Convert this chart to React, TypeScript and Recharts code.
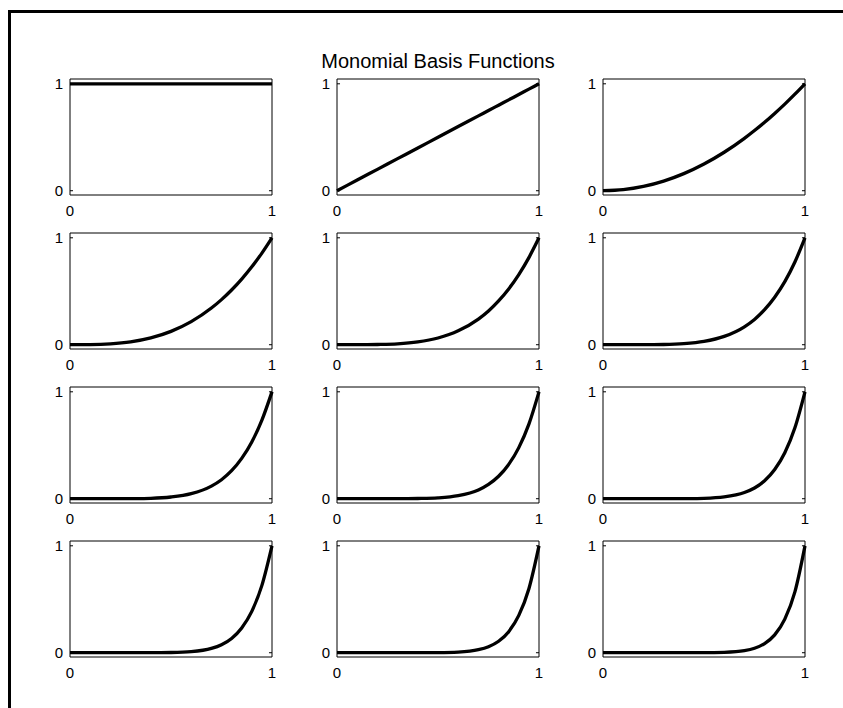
import React from 'react';
import { LineChart, Line, XAxis, YAxis, ReferenceArea, ReferenceLine } from 'recharts';

// shared sample positions on [0, 1]
const xs = [0, 0.1, 0.2, 0.3, 0.4, 0.5, 0.6, 0.7, 0.75, 0.8, 0.85, 0.9, 0.95, 1];

// x^0 ... x^11 read at the positions above
const p0 = [1, 1, 1, 1, 1, 1, 1, 1, 1, 1, 1, 1, 1, 1];
const p1 = [0, 0.1, 0.2, 0.3, 0.4, 0.5, 0.6, 0.7, 0.75, 0.8, 0.85, 0.9, 0.95, 1];
const p2 = [0, 0.01, 0.04, 0.09, 0.16, 0.25, 0.36, 0.49, 0.563, 0.64, 0.723, 0.81, 0.903, 1];
const p3 = [0, 0.001, 0.008, 0.027, 0.064, 0.125, 0.216, 0.343, 0.422, 0.512, 0.614, 0.729, 0.857, 1];
const p4 = [0, 0, 0.002, 0.008, 0.026, 0.063, 0.13, 0.24, 0.316, 0.41, 0.522, 0.656, 0.815, 1];
const p5 = [0, 0, 0, 0.002, 0.01, 0.031, 0.078, 0.168, 0.237, 0.328, 0.444, 0.59, 0.774, 1];
const p6 = [0, 0, 0, 0.001, 0.004, 0.016, 0.047, 0.118, 0.178, 0.262, 0.377, 0.531, 0.735, 1];
const p7 = [0, 0, 0, 0, 0.002, 0.008, 0.028, 0.082, 0.134, 0.21, 0.321, 0.478, 0.698, 1];
const p8 = [0, 0, 0, 0, 0.001, 0.004, 0.017, 0.058, 0.1, 0.168, 0.273, 0.43, 0.663, 1];
const p9 = [0, 0, 0, 0, 0, 0.002, 0.01, 0.04, 0.075, 0.134, 0.232, 0.387, 0.63, 1];
const p10 = [0, 0, 0, 0, 0, 0.001, 0.006, 0.028, 0.056, 0.107, 0.197, 0.349, 0.599, 1];
const p11 = [0, 0, 0, 0, 0, 0, 0.004, 0.02, 0.042, 0.086, 0.167, 0.314, 0.569, 1];

const series = [p0, p1, p2, p3, p4, p5, p6, p7, p8, p9, p10, p11];

const xTicks = [0, 1];
const yTicks = [0, 1];
const title = 'Monomial Basis Functions';

const Y_MIN = -0.04;
const Y_MAX = 1.045;
const TICK_LEN = 0.015; // inner tick length, in x units

// panel grid (page pixels)
const colLeft = [70, 337, 603];
const rowTop = [79, 233, 387, 541];
const PW = 202;
const PH = 116;
const PAD = 4;
const YW = 24;
const XH = 30;

const font = 'Arial, "Liberation Sans", Helvetica, sans-serif';
const tickStyle = { fill: '#000', fontSize: 15, fontFamily: font };

const Panel = ({ values, left, top }: { values: number[]; left: number; top: number }) => {
  const data = xs.map((x, i) => ({ x, y: values[i] }));
  return (
    <div style={{ position: 'absolute', left: left - YW - PAD, top: top - PAD }}>
      <LineChart
        width={PW + YW + PAD * 2}
        height={PH + XH + PAD}
        data={data}
        margin={{ top: PAD, right: PAD, left: PAD, bottom: 0 }}
      >
        <XAxis
          dataKey="x"
          type="number"
          domain={[0, 1]}
          ticks={xTicks}
          tickSize={0}
          tickMargin={10}
          height={XH}
          tick={tickStyle}
          axisLine={false}
          tickLine={false}
        />
        <YAxis
          type="number"
          domain={[Y_MIN, Y_MAX]}
          ticks={yTicks}
          width={YW}
          tickSize={0}
          tickMargin={7}
          tick={tickStyle}
          axisLine={false}
          tickLine={false}
          allowDataOverflow
        />
        {yTicks.map((t) => (
          <ReferenceLine
            key={`l${t}`}
            segment={[{ x: 0, y: t }, { x: TICK_LEN, y: t }]}
            stroke="#000"
            strokeWidth={1}
          />
        ))}
        {yTicks.map((t) => (
          <ReferenceLine
            key={`r${t}`}
            segment={[{ x: 1 - TICK_LEN, y: t }, { x: 1, y: t }]}
            stroke="#000"
            strokeWidth={1}
          />
        ))}
        <ReferenceArea
          x1={0}
          x2={1}
          y1={Y_MIN}
          y2={Y_MAX}
          fill="none"
          fillOpacity={0}
          stroke="#000"
          strokeWidth={1}
          strokeOpacity={1}
        />
        <Line
          dataKey="y"
          type="monotone"
          stroke="#000"
          strokeWidth={3.3}
          dot={false}
          activeDot={false}
          isAnimationActive={false}
        />
      </LineChart>
    </div>
  );
};

export default function App() {
  return (
    <div
      style={{
        position: 'absolute',
        left: 0,
        top: 0,
        width: 843,
        height: 708,
        overflow: 'hidden',
        background: '#fff',
        fontFamily: font,
      }}
    >
      {/* figure frame: top and left edges only */}
      <div style={{ position: 'absolute', left: 8, top: 10, width: 835, height: 3, background: '#000' }} />
      <div style={{ position: 'absolute', left: 8, top: 10, width: 3, height: 698, background: '#000' }} />
      <div
        style={{
          position: 'absolute',
          left: 238,
          top: 51,
          width: 400,
          textAlign: 'center',
          fontSize: 20,
          lineHeight: '20px',
          color: '#000',
        }}
      >
        {title}
      </div>
      {series.map((values, i) => (
        <Panel
          key={i}
          values={values}
          left={colLeft[i % 3]}
          top={rowTop[Math.floor(i / 3)]}
        />
      ))}
    </div>
  );
}
